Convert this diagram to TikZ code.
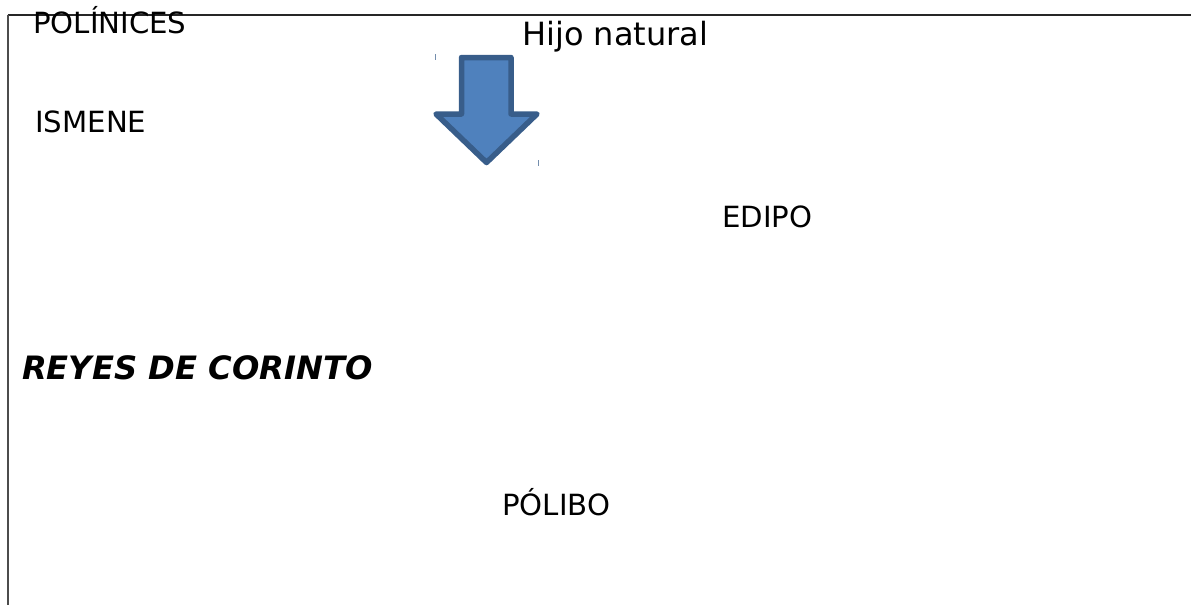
\documentclass[tikz,border=0pt]{standalone}
\usepackage{fontspec}
\setmainfont{DejaVu Sans}
\definecolor{arrowfill}{HTML}{4F81BD}
\definecolor{arrowline}{HTML}{385D8A}
\begin{document}
\begin{tikzpicture}[x=1pt,y=-1pt,
  lbl/.style={anchor=base west,inner sep=0pt,font=\fontsize{29.2}{31}\selectfont},
  biglbl/.style={anchor=base west,inner sep=0pt,font=\fontsize{32}{34}\selectfont},
  blockarrow/.style={fill=arrowfill,draw=arrowline,line width=5.5pt,line join=round},
  tick/.style={draw=arrowline!70,line width=1pt}]
\useasboundingbox[fill=white] (0,0) rectangle (1191,605);
% frame
\draw[line width=1.5pt,black!85] (7.5,15) -- (1191,15);
\draw[line width=2pt,black!70] (7.5,15) -- (7.5,605);
% labels
\node[lbl] (polinices) at (33,33) {POLÍNICES};
\node[biglbl] (hijo) at (522,45) {Hijo natural};
\node[lbl] (ismene) at (35,132) {ISMENE};
\node[lbl] (edipo) at (722,227) {EDIPO};
\node[anchor=base west,inner sep=0pt,font=\fontsize{32.2}{34}\selectfont\bfseries\itshape] (reyes) at (22,379) {REYES DE CORINTO};
\node[lbl] (polibo) at (502,515) {PÓLIBO};
% block arrow
\draw[blockarrow] (461.5,57.5) -- (511,57.5) -- (511,114) -- (537,114) -- (486.5,162.5) -- (436,114) -- (461.5,114) -- cycle;
% small ticks
\draw[tick] (435.5,54) -- (435.5,60);
\draw[tick] (538.5,160) -- (538.5,166);
\end{tikzpicture}
\end{document}
